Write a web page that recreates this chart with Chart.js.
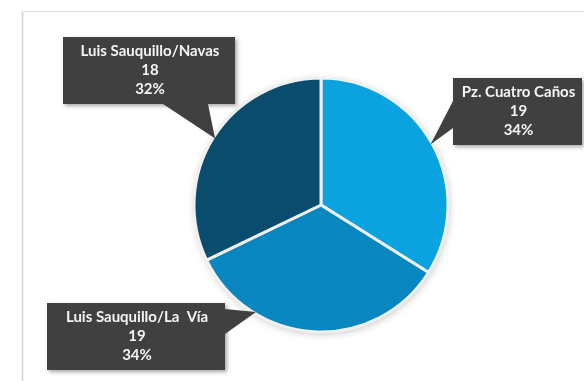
<!DOCTYPE html>
<html>
<head>
<meta charset="utf-8">
<script src="https://cdn.jsdelivr.net/npm/chart.js@4/dist/chart.umd.min.js"></script>
<style>
html,body{margin:0;padding:0;background:#fff;}
#wrap{width:584px;height:381px;position:relative;}
</style>
</head>
<body>
<div id="wrap"><canvas id="c" width="584" height="381"></canvas></div>
<script>
// ---- data ----
const categories = ['Pz. Cuatro Caños', 'Luis Sauquillo/La  Vía', 'Luis Sauquillo/Navas'];
const values = [19, 19, 18];
const sliceColors = ['#0ba3df', '#0886bf', '#0a4c6d'];

// ---- callout layout (box rectangles, pointer base, tip position within slice) ----
const callouts = [
  {box:[453, 78, 582, 145], base:[[453,101],[453,128]], tipFrac:0.5},
  {box:[47, 303, 225, 370], base:[[225,309],[225,334]], tipFrac:0.73},
  {box:[63, 37, 235, 104], base:[[163,104],[208,104]], tipFrac:0.5}
];

const total = values.reduce((a,b)=>a+b,0);

const framePlugin = {
  id:'frame',
  beforeDraw(chart){
    const ctx = chart.ctx;
    ctx.save();
    ctx.lineWidth = 1.5;
    ctx.strokeStyle = '#d0d0d0';
    ctx.beginPath();
    ctx.moveTo(22.5, 400); ctx.lineTo(22.5, 11.5);
    ctx.stroke();
    ctx.strokeStyle = '#e4e4e4';
    ctx.lineWidth = 1;
    ctx.beginPath();
    ctx.moveTo(22.5, 11.5); ctx.lineTo(600, 11.5);
    ctx.stroke();
    ctx.restore();
  }
};

const shadowPlugin = {
  id:'pieShadow',
  beforeDatasetsDraw(chart){
    const arc = chart.getDatasetMeta(0).data[0];
    if(!arc) return;
    const ctx = chart.ctx;
    ctx.save();
    ctx.shadowColor = 'rgba(0,0,0,0.30)';
    ctx.shadowBlur = 9;
    ctx.shadowOffsetX = 1;
    ctx.shadowOffsetY = 2;
    ctx.fillStyle = '#ffffff';
    ctx.beginPath();
    ctx.arc(arc.x, arc.y, arc.outerRadius - 1, 0, Math.PI*2);
    ctx.fill();
    ctx.restore();
  }
};

const calloutPlugin = {
  id:'callouts',
  afterDatasetsDraw(chart){
    const ctx = chart.ctx;
    const meta = chart.getDatasetMeta(0);
    meta.data.forEach((arc, i) => {
      const c = callouts[i];
      const a = arc.startAngle + c.tipFrac*(arc.endAngle - arc.startAngle);
      const r = arc.outerRadius * 0.985;
      const tx = arc.x + Math.cos(a)*r, ty = arc.y + Math.sin(a)*r;
      const [x0,y0,x1,y1] = c.box;
      ctx.save();
      ctx.fillStyle = '#404040';
      ctx.shadowColor = 'rgba(0,0,0,0.35)';
      ctx.shadowBlur = 4;
      ctx.shadowOffsetX = 2;
      ctx.shadowOffsetY = 2;
      ctx.beginPath();
      ctx.rect(x0, y0, x1-x0, y1-y0);
      ctx.fill();
      ctx.shadowColor = 'rgba(0,0,0,0)';
      ctx.beginPath();
      ctx.moveTo(c.base[0][0], c.base[0][1]);
      ctx.lineTo(tx, ty);
      ctx.lineTo(c.base[1][0], c.base[1][1]);
      ctx.closePath();
      ctx.fill();
      ctx.restore();

      const pct = Math.round(values[i]/total*100) + '%';
      const lines = [categories[i], String(values[i]), pct];
      const cx = (x0+x1)/2 + 1, cy = (y0+y1)/2;
      ctx.save();
      ctx.fillStyle = '#f4f4f4';
      ctx.font = 'bold 15px Lato, "Liberation Sans", sans-serif';
      ctx.textAlign = 'center';
      ctx.textBaseline = 'middle';
      lines.forEach((t, k) => ctx.fillText(t, cx, cy + (k-1)*19));
      ctx.restore();
    });
  }
};

new Chart(document.getElementById('c'), {
  type:'pie',
  data:{
    labels: categories,
    datasets:[{
      data: values,
      backgroundColor: sliceColors,
      borderColor: '#f0f0f0',
      borderWidth: 3,
      radius: 127
    }]
  },
  options:{
    responsive:false,
    animation:false,
    layout:{padding:{left:58, right:0, top:29, bottom:0}},
    plugins:{legend:{display:false}, tooltip:{enabled:false}}
  },
  plugins:[framePlugin, shadowPlugin, calloutPlugin]
});
</script>
</body>
</html>
